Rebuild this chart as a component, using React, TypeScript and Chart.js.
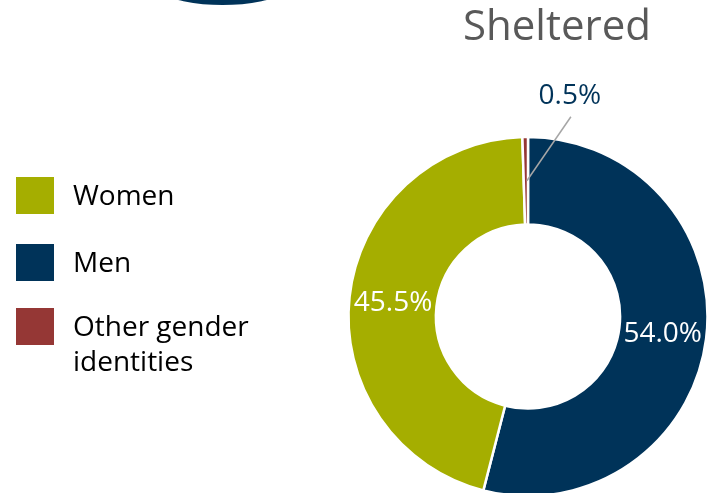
import React, { useEffect, useRef } from "react";
import { Chart, registerables } from "chart.js";

Chart.register(...registerables);

// ---- data ----
const categories = ["Men", "Women", "Other gender identities"];
const values = [54.0, 45.5, 0.5];
const colors = ["#003359", "#A5AE00", "#953735"];
const legendOrder = [1, 0, 2];
const legendLines = [["Men"], ["Women"], ["Other gender", "identities"]];
const titleText = "Sheltered";

const FONT = "'Open Sans', 'Noto Sans', sans-serif";

const decorPlugin = {
  id: "decor",
  beforeDraw(chart: any) {
    const ctx = chart.ctx;
    ctx.save();
    ctx.fillStyle = "#ffffff";
    ctx.fillRect(0, 0, chart.width, chart.height);
    // partial ring of the neighbouring chart (cropped at the top)
    ctx.beginPath();
    ctx.arc(222.5, -195, 200, 0, Math.PI * 2);
    ctx.fillStyle = "#003359";
    ctx.fill();
    ctx.restore();
  },
  afterDraw(chart: any) {
    const ctx = chart.ctx;
    ctx.save();
    // title
    ctx.font = `42px ${FONT}`;
    ctx.fillStyle = "#595959";
    ctx.textAlign = "left";
    ctx.textBaseline = "alphabetic";
    ctx.fillText(titleText, 463, 40);

    // legend
    const bgs = chart.data.datasets[0].backgroundColor;
    const tops = [177, 244, 308];
    ctx.font = `28px ${FONT}`;
    legendOrder.forEach((idx, i) => {
      const y = tops[i];
      ctx.fillStyle = bgs[idx];
      ctx.fillRect(16, y, 38, 37);
      ctx.fillStyle = "#000000";
      const lines = legendLines[idx];
      lines.forEach((ln, j) => {
        ctx.fillText(ln, 73, y + 28 + j * 35);
      });
    });

    // data labels
    const meta = chart.getDatasetMeta(0);
    const data = chart.data.datasets[0].data;
    ctx.font = `28px ${FONT}`;
    ctx.textAlign = "center";
    ctx.textBaseline = "middle";
    meta.data.forEach((arc: any, i: number) => {
      const p = arc.tooltipPosition(false);
      const txt = Number(data[i]).toFixed(1) + "%";
      if (data[i] >= 5) {
        ctx.fillStyle = "#ffffff";
        ctx.fillText(txt, p.x, p.y + 1);
      } else {
        const lx = p.x + 44;
        const ly = p.y - 86;
        ctx.strokeStyle = "#A6A6A6";
        ctx.lineWidth = 1.5;
        ctx.beginPath();
        ctx.moveTo(p.x + 1, p.y);
        ctx.lineTo(p.x + 45, p.y - 64);
        ctx.stroke();
        ctx.fillStyle = "#003359";
        ctx.fillText(txt, lx, ly + 1);
      }
    });
    ctx.restore();
  },
};

export default function App() {
  const ref = useRef<HTMLCanvasElement | null>(null);
  useEffect(() => {
    if (!ref.current) return;
    const chart = new Chart(ref.current, {
      type: "doughnut",
      data: {
        labels: categories,
        datasets: [
          {
            data: values,
            backgroundColor: colors,
            borderColor: "#ffffff",
            borderWidth: 2.5,
            radius: 179.5,
            cutout: "51.3%",
          } as any,
        ],
      },
      options: {
        responsive: false,
        animation: false,
        rotation: 0,
        layout: { padding: { left: 348.5, right: 3.5, top: 137, bottom: 4 } },
        plugins: {
          legend: { display: false },
          tooltip: { enabled: false },
          title: { display: false },
        },
      },
      plugins: [decorPlugin],
    });
    return () => chart.destroy();
  }, []);
  return (
    <div
      style={{
        position: "fixed",
        left: 0,
        top: 0,
        width: 711,
        height: 493,
        overflow: "hidden",
        background: "#fff",
      }}
    >
      <canvas ref={ref} width={711} height={500} style={{ display: "block" }} />
    </div>
  );
}
